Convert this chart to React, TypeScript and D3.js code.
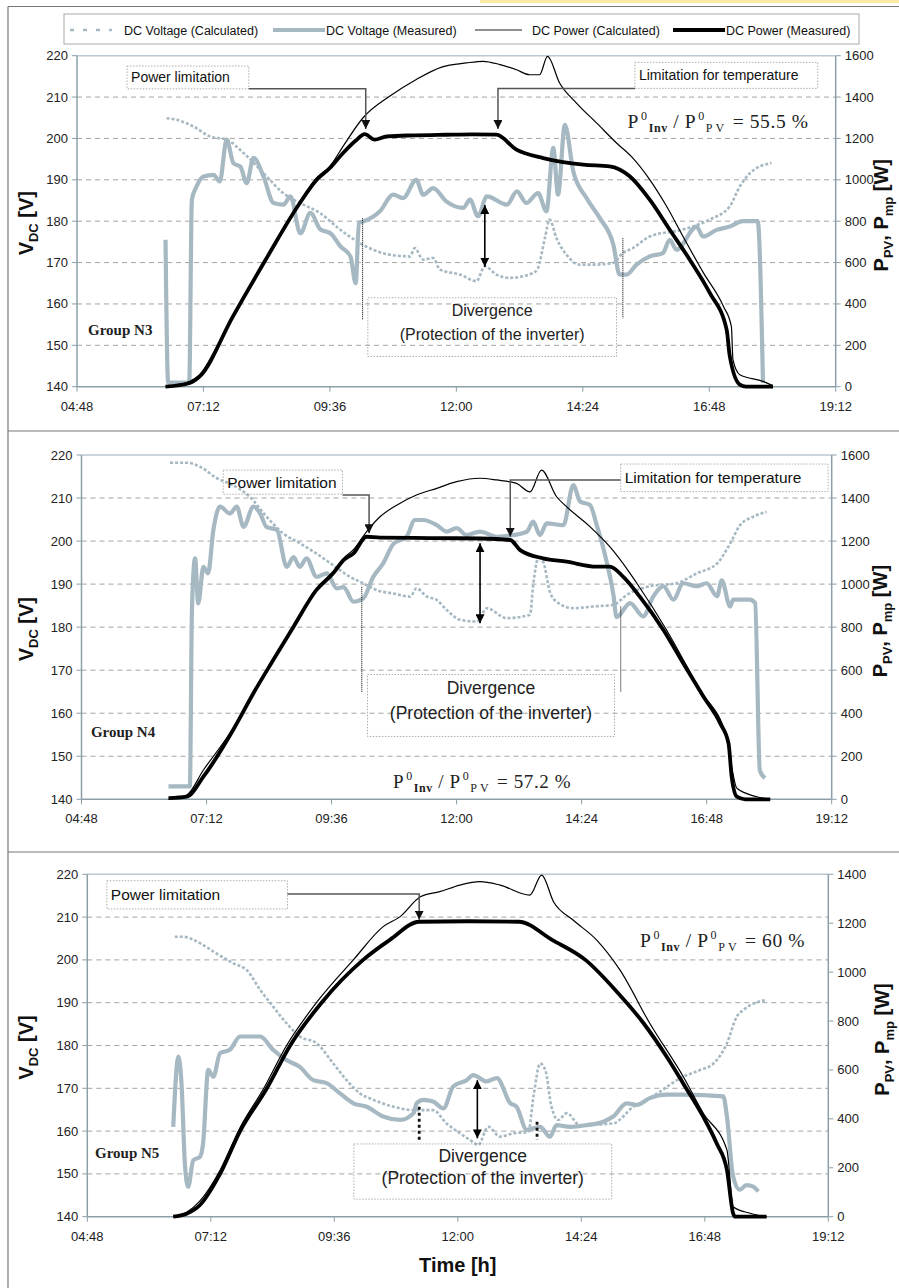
import React from 'react'
import * as d3 from 'd3'

type Pt = [number, number]

// time axis (hours) and labels
const timeHours = [4.8, 7.2, 9.6, 12, 14.4, 16.8, 19.2]
const timeLabels = ['04:48', '07:12', '09:36', '12:00', '14:24', '16:48', '19:12']
const voltTicks = [140, 150, 160, 170, 180, 190, 200, 210, 220]
const powerTicks1600 = [0, 200, 400, 600, 800, 1000, 1200, 1400, 1600]
const powerTicks1400 = [0, 200, 400, 600, 800, 1000, 1200, 1400]

// ---- Group N3 ----
const n3VoltCalc: Pt[] = [[6.5,204.9],[6.69,204.5],[7.01,202.9],[7.32,200.5],[7.64,199.7],[7.96,196.5],[8.4,190.8],[8.71,186.8],[9.03,184.4],[9.41,182],[9.79,178],[10.17,174.7],[10.42,173.1],[10.74,171.9],[11.12,171.5],[11.21,173.5],[11.37,170.7],[11.56,171.1],[11.69,168.3],[12.07,167.1],[12.38,165.5],[12.54,169.1],[12.76,167.1],[13.01,166.3],[13.46,167.5],[13.55,168.7],[13.68,175.9],[13.77,180.4],[13.9,175.9],[14.09,171.9],[14.34,169.5],[14.6,169.5],[14.97,169.9],[15.16,172.3],[15.35,173.5],[15.67,176.3],[16.3,178],[16.81,180.4],[17.19,183.6],[17.38,188.4],[17.57,191.6],[17.98,194.1]]
const n3VoltMeas: Pt[] = [[6.48,175.5],[6.53,141],[6.93,141],[6.98,185.2],[7.07,188.4],[7.2,190.8],[7.39,191.2],[7.51,189.6],[7.64,199.7],[7.77,194],[7.9,193.2],[8.02,189.2],[8.15,195.3],[8.34,190.8],[8.53,184.4],[8.72,184],[8.85,186],[9.04,177.1],[9.23,182],[9.42,178],[9.61,177.1],[9.8,173.9],[9.99,171.5],[10.09,165],[10.15,179.6],[10.25,180],[10.55,182.4],[10.8,186.4],[10.99,185.6],[11.24,190],[11.37,186.4],[11.56,188],[11.81,184.8],[12.13,183.2],[12.26,185.2],[12.41,181.2],[12.58,186],[12.96,184],[13.15,187.2],[13.33,184.4],[13.55,186.8],[13.71,182.4],[13.84,197.7],[13.93,186.4],[14.06,203.3],[14.22,192],[14.47,185.6],[14.72,180.8],[14.98,174.3],[15.1,167.1],[15.23,167.1],[15.42,169.5],[15.67,171.5],[15.92,172.3],[16.05,175.5],[16.18,173.1],[16.56,178.7],[16.68,176.3],[16.94,177.9],[17.19,178.7],[17.44,180],[17.72,180],[17.82,140.9]]
const n3PowCalc: Pt[] = [[6.48,0],[6.94,26],[7.13,58],[7.76,345],[8.4,628],[9.03,895],[9.35,1010],[9.6,1065],[9.85,1162],[10.23,1300],[10.74,1405],[11.24,1485],[11.72,1545],[12.19,1565],[12.51,1573],[12.83,1557],[13.14,1532],[13.39,1508],[13.58,1508],[13.73,1597],[13.96,1468],[14.28,1371],[14.66,1275],[15.04,1178],[15.32,1113],[15.67,1001],[15.99,872],[16.3,727],[16.69,550],[17.07,388],[17.22,291],[17.25,131],[17.38,58],[17.82,26],[18.01,5]]
const n3PowMeas: Pt[] = [[6.48,0],[6.94,18],[7.13,50],[7.76,340],[8.4,622],[9.03,888],[9.35,1000],[9.6,1057],[9.85,1130],[10.11,1194],[10.26,1221],[10.45,1194],[10.68,1210],[11.2,1215],[11.8,1218],[12.3,1220],[12.76,1218],[13.14,1146],[13.65,1105],[14.41,1073],[14.91,1065],[15.29,1017],[15.67,904],[16.05,759],[16.43,614],[16.81,453],[17.13,276],[17.19,147],[17.38,10],[17.5,0],[18.01,0]]

// ---- Group N4 ----
const n4VoltCalc: Pt[] = [[6.5,218.2],[6.82,218.2],[7.07,217.3],[7.4,214.6],[7.71,213],[8.03,210.3],[8.35,205.7],[8.67,201.8],[8.99,199.5],[9.31,197.1],[9.63,194.4],[9.95,191.7],[10.21,190.2],[10.47,188.6],[10.79,187.8],[11.11,187.1],[11.23,189],[11.43,187.1],[11.62,186.3],[11.81,184],[12.07,181.7],[12.39,181.3],[12.58,184.4],[12.96,182.1],[13.41,182.9],[13.47,189.8],[13.57,196],[13.66,195.2],[13.79,188.2],[13.92,185.9],[14.24,184.4],[14.62,184.8],[15.01,185.2],[15.27,187.5],[15.71,189.5],[16.22,190.2],[16.61,192.5],[17,194.8],[17.25,199.4],[17.44,203.7],[17.7,205.7],[17.95,206.8]]
const n4VoltMeas: Pt[] = [[6.47,143],[6.88,143],[6.92,184],[6.98,196],[7.04,185.5],[7.14,194],[7.23,192.5],[7.33,202.5],[7.46,208],[7.65,206.4],[7.78,208],[7.91,203.3],[8.1,208],[8.23,206.4],[8.35,203.3],[8.55,202.6],[8.74,194],[8.87,196.3],[8.99,194],[9.12,196],[9.31,191.7],[9.51,192.5],[9.7,189],[9.83,189.3],[10.02,185.9],[10.21,186.7],[10.4,191.7],[10.59,194.8],[10.79,199.4],[11.04,201],[11.2,204.9],[11.36,204.9],[11.62,203.7],[11.81,202.2],[12,203],[12.19,201.4],[12.45,202.2],[12.77,201],[13.09,201.4],[13.35,202.2],[13.47,204.5],[13.6,201.4],[13.73,204.1],[14.05,203.7],[14.24,213],[14.37,209.2],[14.56,208.4],[14.69,203.7],[14.88,195.2],[15.01,187.5],[15.07,182.3],[15.33,185.6],[15.58,182.5],[15.78,187.2],[15.97,189.5],[16.16,186.4],[16.35,190.2],[16.61,189.5],[16.8,190.2],[17,187.2],[17.09,190.9],[17.25,184.8],[17.31,186.4],[17.63,186.4],[17.73,185.6],[17.82,146.8],[17.92,144.9]]
const n4PowCalc: Pt[] = [[6.47,0],[6.82,20],[7.14,136],[7.71,330],[8.1,500],[8.48,652],[8.87,806],[9.31,978],[9.63,1058],[9.83,1120],[10.02,1160],[10.27,1243],[10.53,1313],[10.85,1367],[11.23,1414],[11.62,1445],[12,1476],[12.45,1492],[12.77,1484],[13.15,1468],[13.41,1429],[13.63,1530],[13.92,1406],[14.11,1360],[14.56,1267],[14.94,1174],[15.33,1050],[15.46,1004],[16.03,787],[16.67,508],[17.18,291],[17.28,151],[17.38,51],[17.76,12],[18.02,0]]
const n4PowMeas: Pt[] = [[6.47,5],[6.82,12],[7.14,105],[7.71,322],[8.1,493],[8.48,647],[8.87,802],[9.31,973],[9.63,1050],[9.83,1112],[10.02,1143],[10.27,1220],[10.53,1216],[11.49,1214],[12.45,1212],[13.03,1205],[13.22,1158],[13.66,1120],[14.11,1104],[14.69,1081],[14.94,1081],[15.2,1034],[15.52,941],[15.97,787],[16.35,632],[16.74,477],[17.06,353],[17.22,260],[17.28,105],[17.38,12],[17.54,0],[18.02,0]]

// ---- Group N5 ----
const n5VoltCalc: Pt[] = [[6.5,205.4],[6.66,205.4],[6.99,203.9],[7.31,201.5],[7.64,199.2],[7.9,197.6],[8.16,193],[8.41,189.1],[8.67,185.2],[8.93,182.1],[9.26,180.5],[9.58,175.8],[9.84,171.9],[10.1,168.8],[10.36,167.3],[10.75,165.7],[11.14,164.9],[11.27,164.9],[11.52,164.9],[11.78,161.8],[12.04,159.5],[12.24,157.9],[12.4,156.8],[12.59,161],[12.82,158.7],[13.08,159.5],[13.37,159.8],[13.47,168],[13.6,175.8],[13.7,174.3],[13.82,165.7],[13.95,162.6],[14.12,164.2],[14.37,161.4],[15.02,161.8],[15.41,165.7],[15.73,167.7],[16.38,172.7],[16.71,174.3],[16.97,175.8],[17.23,180.5],[17.42,186.7],[17.55,188.3],[17.97,190.6]]
const n5VoltMeas: Pt[] = [[6.47,161],[6.57,177.4],[6.63,171.2],[6.7,151.7],[6.76,147],[6.86,153.2],[6.99,154],[7.05,157.1],[7.15,174.3],[7.25,172.7],[7.38,178.2],[7.57,179],[7.77,182.1],[7.96,182.1],[8.16,182.1],[8.41,179],[8.67,176.6],[8.93,175],[9.19,171.9],[9.45,171.2],[9.71,168.8],[9.97,166.5],[10.23,165.7],[10.55,163.4],[10.88,162.6],[11.14,164.2],[11.2,166.5],[11.33,167.3],[11.52,166.9],[11.72,165.3],[11.91,170.4],[12.17,171.9],[12.3,173.1],[12.56,171.6],[12.76,172.4],[13.02,166.5],[13.14,165.7],[13.34,160.3],[13.6,161],[13.79,158.7],[13.92,161.4],[14.18,161],[14.5,161.4],[14.83,162.2],[15.02,163.4],[15.28,166.5],[15.48,166.1],[15.73,167.7],[16.06,168.5],[16.38,168.5],[17.16,168.1],[17.23,163.4],[17.35,149.4],[17.48,146.3],[17.61,147.4],[17.74,147],[17.84,145.9]]
const n5PowCalc: Pt[] = [[6.47,0],[6.73,18],[6.99,65],[7.38,190],[7.77,365],[8.23,525],[8.67,699],[9.26,877],[9.97,1050],[10.55,1186],[10.88,1227],[11.28,1309],[11.65,1329],[12.04,1356],[12.43,1370],[12.82,1356],[13.4,1315],[13.63,1397],[13.86,1288],[14.24,1213],[14.7,1131],[15.15,1009],[15.73,791],[16.38,573],[16.77,423],[17.23,273],[17.35,41],[17.68,14],[18,0]]
const n5PowMeas: Pt[] = [[6.47,0],[6.73,12],[6.99,48],[7.38,175],[7.77,350],[8.29,525],[8.74,699],[9.36,877],[10.16,1050],[10.68,1132],[11.25,1206],[12.2,1208],[13.19,1206],[13.84,1131],[14.48,1050],[15.09,920],[15.61,791],[16.06,654],[16.38,545],[16.77,409],[17.03,300],[17.23,191],[17.35,14],[17.39,0],[18,0]]

const GRAY = '#a6b8c2'
const AXIS = '#8c9fa9'
const SANS = '"Liberation Sans", Arial, sans-serif'
const SERIF = '"Liberation Serif", "Times New Roman", serif'

const panels = [
  {
    id: 'n3', box: { left: 77, right: 835.7, top: 55.7, bottom: 386.7 }, pMax: 1600, pTicks: powerTicks1600,
    rightTitleX: 888, series: [n3VoltCalc, n3VoltMeas, n3PowCalc, n3PowMeas],
    notes: {
      lim: { h0: 5.75, h1: 8.06, v0: 217.5, v1: 212.0, fs: 14, path: [[8.06, 212.0], [10.28, 212.0], [10.28, 202.3]] as Pt[] },
      temp: { h0: 15.39, h1: 18.86, v0: 218.4, v1: 212.1, fs: 14, path: [[15.39, 212.1], [12.79, 212.1], [12.79, 202.3]] as Pt[] },
      ratio: { h: 15.25, v: 202.5, value: '55.5 %', fs: 19.5 },
      div: { h0: 10.32, h1: 15.04, v0: 161.5, v1: 147.3, fs: 16 },
      dArrow: { h: 12.54, v0: 183.9, v1: 169 },
      dots: [{ h: 10.22, v0: 180.7, v1: 156.1 }, { h: 15.16, v0: 175.9, v1: 156.5 }], heavyDots: false,
      group: { h: 5.01, v: 153.7, text: 'Group N3' },
    },
  },
  {
    id: 'n4', box: { left: 81.5, right: 831.7, top: 455, bottom: 799.3 }, pMax: 1600, pTicks: powerTicks1600,
    rightTitleX: 887, series: [n4VoltCalc, n4VoltMeas, n4PowCalc, n4PowMeas],
    notes: {
      lim: { h0: 7.52, h1: 9.81, v0: 216.5, v1: 210.9, fs: 15.5, path: [[9.81, 210.7], [10.32, 210.7], [10.32, 201.8]] as Pt[] },
      temp: { h0: 15.15, h1: 19.13, v0: 217.9, v1: 211.5, fs: 15.5, path: [[15.15, 214.2], [13.03, 214.2], [13.03, 201.0]] as Pt[] },
      ratio: { h: 10.78, v: 142.6, value: '57.2 %', fs: 19 },
      div: { h0: 10.29, h1: 15.03, v0: 169.0, v1: 154.6, fs: 17.5 },
      dArrow: { h: 12.45, v0: 199.5, v1: 180.9 },
      dots: [{ h: 10.18, v0: 189.4, v1: 165.0 }, { h: 15.15, v0: 184.8, v1: 165.0 }], heavyDots: false,
      group: { h: 4.98, v: 155.7, text: 'Group N4' },
    },
  },
  {
    id: 'n5', box: { left: 87.3, right: 828.3, top: 874.3, bottom: 1216.7 }, pMax: 1400, pTicks: powerTicks1400,
    rightTitleX: 889, series: [n5VoltCalc, n5VoltMeas, n5PowCalc, n5PowMeas],
    notes: {
      lim: { h0: 5.18, h1: 8.69, v0: 218.5, v1: 211.9, fs: 15.5, path: [[8.69, 215.4], [11.25, 215.4], [11.25, 209.4]] as Pt[] },
      temp: null,
      ratio: { h: 15.54, v: 203.1, value: '60 %', fs: 19.5 },
      div: { h0: 9.98, h1: 14.99, v0: 157, v1: 144.1, fs: 17.5 },
      dArrow: { h: 12.38, v0: 171.9, v1: 158.3 },
      dots: [{ h: 11.25, v0: 165.7, v1: 157.9 }, { h: 13.54, v0: 162.2, v1: 157.9 }], heavyDots: true,
      group: { h: 4.95, v: 154.8, text: 'Group N5' },
    },
  },
]

function Panel({ p, last }: { p: any; last: boolean }) {
  const { box, pMax, pTicks, notes } = p
  const x = d3.scaleLinear().domain([4.8, 19.2]).range([box.left, box.right])
  const yV = d3.scaleLinear().domain([140, 220]).range([box.bottom, box.top])
  const yP = d3.scaleLinear().domain([0, pMax]).range([box.bottom, box.top])
  const lineV = d3.line<Pt>().x(d => x(d[0])).y(d => yV(d[1])).curve(d3.curveMonotoneX)
  const lineP = d3.line<Pt>().x(d => x(d[0])).y(d => yP(d[1])).curve(d3.curveMonotoneX)
  const path = d3.line<Pt>().x(d => x(d[0])).y(d => yV(d[1]))
  const [vCalc, vMeas, pCalc, pMeas] = p.series
  const midY = (box.top + box.bottom) / 2

  const box2 = (b: any) => ({ x: x(b.h0), y: yV(b.v0), w: x(b.h1) - x(b.h0), h: yV(b.v1) - yV(b.v0) })
  const lim = box2(notes.lim)
  const temp = notes.temp ? box2(notes.temp) : null
  const div = box2(notes.div)
  const small = Math.round(notes.ratio.fs * 0.62)

  return (
    <g>
      {/* grid */}
      {voltTicks.slice(1, -1).map(v => (
        <line key={v} x1={box.left} x2={box.right} y1={yV(v)} y2={yV(v)} stroke="#9a9a9a" strokeWidth={0.9} strokeDasharray="5,4" />
      ))}
      <line x1={box.left} x2={box.right} y1={box.top} y2={box.top} stroke="#bac8d0" strokeWidth={1.5} />
      {/* axes */}
      <line x1={box.left} x2={box.left} y1={box.top} y2={box.bottom} stroke={AXIS} strokeWidth={1.5} />
      <line x1={box.right} x2={box.right} y1={box.top} y2={box.bottom} stroke={AXIS} strokeWidth={1.5} />
      <line x1={box.left} x2={box.right} y1={box.bottom} y2={box.bottom} stroke={AXIS} strokeWidth={1.5} />
      {voltTicks.map(v => (
        <g key={v}>
          <line x1={box.left - 5} x2={box.left} y1={yV(v)} y2={yV(v)} stroke={AXIS} />
          <text x={box.left - 9} y={yV(v)} textAnchor="end" dominantBaseline="central" fontFamily={SANS} fontSize={13} fill="#222">{v}</text>
        </g>
      ))}
      {pTicks.map((t: number) => (
        <g key={t}>
          <line x1={box.right} x2={box.right + 5} y1={yP(t)} y2={yP(t)} stroke={AXIS} />
          <text x={box.right + 9} y={yP(t)} dominantBaseline="central" fontFamily={SANS} fontSize={13} fill="#222">{t}</text>
        </g>
      ))}
      {timeHours.map((h, i) => (
        <g key={h}>
          <line x1={x(h)} x2={x(h)} y1={box.bottom} y2={box.bottom + 5} stroke={AXIS} />
          <text x={x(h)} y={box.bottom + 24} textAnchor="middle" fontFamily={SANS} fontSize={13} fill="#222">{timeLabels[i]}</text>
        </g>
      ))}
      {/* axis titles */}
      <text transform={`translate(33,${midY + 2}) rotate(-90)`} textAnchor="middle" fontFamily={SANS} fontWeight="bold" fontSize={20} fill="#111">
        V<tspan fontSize={13} dy={5}>DC</tspan><tspan dy={-5}> [V]</tspan>
      </text>
      <text transform={`translate(${p.rightTitleX},${midY - 6}) rotate(-90)`} textAnchor="middle" fontFamily={SANS} fontWeight="bold" fontSize={20} fill="#111">
        P<tspan fontSize={13} dy={5}>PV</tspan><tspan dy={-5}>, P</tspan><tspan fontSize={13} dy={5}>mp</tspan><tspan dy={-5}> [W]</tspan>
      </text>
      {last && (
        <text x={(box.left + box.right) / 2} y={box.bottom + 55} textAnchor="middle" fontFamily={SANS} fontWeight="bold" fontSize={20} fill="#111">Time [h]</text>
      )}

      {/* series */}
      <path d={lineV(vCalc) || ''} fill="none" stroke={GRAY} strokeWidth={2.6} strokeDasharray="3,2" />
      <path d={lineV(vMeas) || ''} fill="none" stroke={GRAY} strokeWidth={4.2} strokeLinejoin="round" />
      <path d={lineP(pCalc) || ''} fill="none" stroke="#000" strokeWidth={1.2} strokeLinejoin="round" />
      <path d={lineP(pMeas) || ''} fill="none" stroke="#000" strokeWidth={3.8} strokeLinejoin="round" />

      {/* annotations */}
      <rect x={lim.x} y={lim.y} width={lim.w} height={lim.h} fill="none" stroke="#999" strokeWidth={0.8} strokeDasharray="1.5,1.5" />
      <text x={lim.x + 4} y={lim.y + lim.h / 2} dominantBaseline="central" fontFamily={SANS} fontSize={notes.lim.fs} fill="#111">Power limitation</text>
      <path d={path(notes.lim.path) || ''} fill="none" stroke="#555" strokeWidth={1.5} markerEnd={`url(#tri-${p.id})`} />
      {temp && (
        <g>
          <rect x={temp.x} y={temp.y} width={temp.w} height={temp.h} fill="none" stroke="#999" strokeWidth={0.8} strokeDasharray="1.5,1.5" />
          <text x={temp.x + 4} y={temp.y + temp.h / 2} dominantBaseline="central" fontFamily={SANS} fontSize={notes.temp.fs} fill="#111">Limitation for temperature</text>
          <path d={path(notes.temp.path) || ''} fill="none" stroke="#555" strokeWidth={1.5} markerEnd={`url(#tri-${p.id})`} />
        </g>
      )}
      <text x={x(notes.ratio.h)} y={yV(notes.ratio.v)} fontFamily={SERIF} fontSize={notes.ratio.fs} fill="#222" letterSpacing={0.6}>
        P<tspan fontSize={small} dx={2} dy={-8}>0</tspan><tspan fontSize={small} dx={1} dy={12} fontWeight="bold">Inv</tspan><tspan dy={-4}> / P</tspan><tspan fontSize={small} dx={2} dy={-8}>0</tspan><tspan fontSize={small} dx={1} dy={12} letterSpacing={3}>PV</tspan><tspan dy={-4}> = {notes.ratio.value}</tspan>
      </text>
      <rect x={div.x} y={div.y} width={div.w} height={div.h} fill="none" stroke="#999" strokeWidth={0.8} strokeDasharray="1.5,1.5" />
      <text x={div.x + div.w / 2} y={div.y + div.h * 0.22} textAnchor="middle" dominantBaseline="central" fontFamily={SANS} fontSize={notes.div.fs} fill="#222">Divergence</text>
      <text x={div.x + div.w / 2} y={div.y + div.h * 0.62} textAnchor="middle" dominantBaseline="central" fontFamily={SANS} fontSize={notes.div.fs} fill="#222">(Protection of the inverter)</text>
      <line x1={x(notes.dArrow.h)} x2={x(notes.dArrow.h)} y1={yV(notes.dArrow.v0)} y2={yV(notes.dArrow.v1)} stroke="#000" strokeWidth={1.6}
        markerStart={`url(#tri2-${p.id})`} markerEnd={`url(#tri2-${p.id})`} />
      {notes.dots.map((d: any, i: number) => (
        <line key={i} x1={x(d.h)} x2={x(d.h)} y1={yV(d.v0)} y2={yV(d.v1)} stroke="#111"
          strokeWidth={notes.heavyDots ? 2.8 : 1.1} strokeDasharray={notes.heavyDots ? '3,3' : '1,1'} />
      ))}
      <text x={x(notes.group.h)} y={yV(notes.group.v)} dominantBaseline="central" fontFamily={SERIF} fontWeight="bold" fontSize={15} fill="#222">{notes.group.text}</text>

      <defs>
        <marker id={`tri-${p.id}`} viewBox="0 0 10 10" refX={10} refY={5} markerWidth={9} markerHeight={9} markerUnits="userSpaceOnUse" orient="auto">
          <path d="M0,0 L10,5 L0,10 z" fill="#111" />
        </marker>
        <marker id={`tri2-${p.id}`} viewBox="0 0 10 10" refX={10} refY={5} markerWidth={9} markerHeight={9} markerUnits="userSpaceOnUse" orient="auto-start-reverse">
          <path d="M0,0 L10,5 L0,10 z" fill="#000" />
        </marker>
      </defs>
    </g>
  )
}

function Legend() {
  const y = 30
  return (
    <g fontFamily={SANS} fontSize={12.5} fill="#111">
      <rect x={64} y={14} width={795} height={30} fill="#fff" stroke="#aaa" strokeWidth={1} />
      <line x1={70} x2={112} y1={y} y2={y} stroke={GRAY} strokeWidth={2.6} strokeDasharray="4,9" />
      <text x={124} y={y + 4.5}>DC Voltage (Calculated)</text>
      <line x1={273} x2={325} y1={y} y2={y} stroke={GRAY} strokeWidth={4} />
      <text x={326} y={y + 4.5}>DC Voltage (Measured)</text>
      <line x1={475} x2={522} y1={y} y2={y} stroke="#222" strokeWidth={1.2} />
      <text x={532} y={y + 4.5}>DC Power (Calculated)</text>
      <line x1={673} x2={725} y1={y} y2={y} stroke="#000" strokeWidth={4} />
      <text x={726} y={y + 4.5}>DC Power (Measured)</text>
    </g>
  )
}

export default function App() {
  return (
    <svg width={899} height={1288} style={{ position: 'absolute', left: 0, top: 0, background: '#fff' }}>
      <rect x={0} y={0} width={899} height={1288} fill="#fff" />
      <rect x={480} y={0} width={419} height={3} fill="#f6df7a" opacity={0.7} />
      {/* figure frame */}
      <line x1={8} x2={899} y1={6.5} y2={6.5} stroke="#777" strokeWidth={1.2} />
      <line x1={8} x2={8} y1={6.5} y2={1288} stroke="#777" strokeWidth={1.2} />
      <line x1={8} x2={899} y1={431} y2={431} stroke="#777" strokeWidth={1.2} />
      <line x1={8} x2={899} y1={852} y2={852} stroke="#777" strokeWidth={1.2} />
      <Legend />
      {panels.map((p, i) => <Panel key={p.id} p={p} last={i === panels.length - 1} />)}
    </svg>
  )
}
